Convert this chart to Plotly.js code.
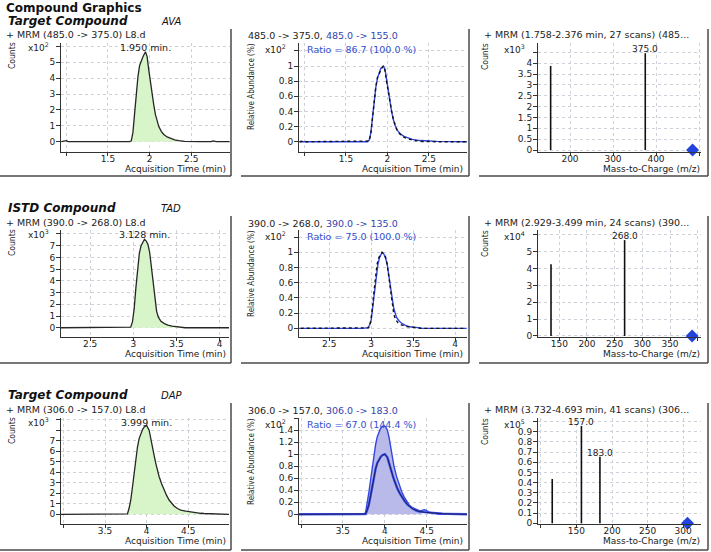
<!DOCTYPE html>
<html><head><meta charset="utf-8">
<script src="https://cdn.plot.ly/plotly-3.0.1.min.js"></script>
<style>html,body{margin:0;padding:0;background:#fff}#chart{width:711px;height:552px}</style>
</head><body><div id="chart"></div>
<script>
// ================= DATA =================
// Row 1 : AVA (target)  485.0 -> 375.0 / 155.0
const rt1 = [0.94,1.00,1.02,1.10,1.30,1.50,1.70,1.76,1.78,1.80,1.82,1.84,1.86,1.88,1.90,1.92,1.95,1.97,1.99,2.01,2.03,2.05,2.07,2.09,2.11,2.14,2.17,2.21,2.25,2.30,2.35,2.38,2.42,2.60,2.74,2.76,2.80,2.96];
const ab1 = [0,0.06,0,0,0,0,0,0,0.05,0.6,1.8,3.1,4.1,4.8,5.15,5.35,5.66,5.35,4.5,3.7,3.0,2.3,1.7,1.3,0.95,0.65,0.45,0.3,0.2,0.12,0.07,0.04,0.02,0,0,0.05,0,0];
const rt2 = [0.94,1.30,1.60,1.76,1.78,1.80,1.82,1.84,1.86,1.88,1.90,1.92,1.95,1.97,1.99,2.01,2.03,2.05,2.07,2.09,2.12,2.16,2.20,2.25,2.30,2.40,2.60,2.96];
const q2  = [0,0,0,0,0.02,0.12,0.32,0.55,0.72,0.84,0.92,0.97,1.0,0.96,0.82,0.66,0.52,0.40,0.30,0.22,0.15,0.10,0.07,0.05,0.03,0.015,0.005,0];
const mz3 = [155,375], int3 = [3.87,4.46], lbl3 = ['', '375.0'], pre3 = 485;

// Row 2 : TAD (ISTD)  390.0 -> 268.0 / 135.0
const rt4 = [2.16,2.50,2.80,2.95,2.97,2.99,3.01,3.03,3.05,3.07,3.09,3.11,3.13,3.15,3.17,3.19,3.21,3.23,3.25,3.27,3.29,3.32,3.36,3.40,3.45,3.50,3.56,3.60,3.80,4.11];
const ab4 = [0,0,0,0,0.05,0.5,1.6,3.4,5.1,6.35,7.0,7.35,7.55,7.4,7.1,6.4,5.2,3.8,2.4,1.4,0.9,0.55,0.35,0.22,0.14,0.1,0.05,0,0,0];
const rt5 = [2.14,2.50,2.90,2.96,2.98,3.00,3.02,3.04,3.06,3.08,3.10,3.13,3.15,3.17,3.19,3.21,3.23,3.25,3.27,3.30,3.33,3.36,3.41,3.46,3.56,3.60,4.14];
const q5  = [0,0,0,0.01,0.04,0.11,0.28,0.47,0.68,0.84,0.93,1.0,0.98,0.93,0.85,0.72,0.55,0.40,0.26,0.15,0.10,0.07,0.04,0.02,0.01,0,0];
const mz6 = [135,268], int6 = [4.25,5.69], lbl6 = ['', '268.0'], pre6 = 390;

// Row 3 : DAP (target)  306.0 -> 157.0 / 183.0
const rt7 = [2.97,3.30,3.60,3.75,3.77,3.79,3.81,3.83,3.85,3.87,3.89,3.91,3.93,3.95,3.97,4.00,4.03,4.05,4.07,4.09,4.11,4.13,4.15,4.18,4.21,4.24,4.27,4.30,4.33,4.37,4.41,4.47,4.53,4.60,4.65,4.69,4.75,4.85,4.92,4.99];
const ab7 = [0,0,0,0,0.05,0.6,1.4,2.6,3.9,5.2,6.4,7.2,7.7,8.05,8.3,8.45,8.0,7.3,6.4,5.6,4.85,4.2,3.6,2.9,2.3,1.8,1.36,1.05,0.8,0.55,0.4,0.3,0.22,0.14,0.1,0.08,0.06,0.05,0.03,0];
const rt8 = [2.98,3.40,3.70,3.75,3.77,3.79,3.81,3.83,3.85,3.87,3.89,3.91,3.93,3.95,3.97,3.99,4.01,4.03,4.05,4.07,4.09,4.11,4.14,4.17,4.20,4.23,4.26,4.29,4.33,4.37,4.41,4.44,4.47,4.50,4.53,4.58,4.65,4.80,4.98];
const q8  = [0,0,0,0,0.03,0.18,0.37,0.57,0.79,1.01,1.16,1.29,1.37,1.43,1.46,1.47,1.45,1.40,1.28,1.12,0.95,0.79,0.63,0.49,0.38,0.29,0.21,0.155,0.11,0.08,0.06,0.065,0.075,0.06,0.03,0.02,0,0,0];
const mz9 = [116,157,183], int9 = [0.435,0.956,0.654], lbl9 = ['', '157.0', '183.0'], pre9 = 306;

const compTitles = ['Target Compound','ISTD Compound','Target Compound'];
const compNames  = ['AVA','TAD','DAP'];
const mrmHdr = ['+ MRM (485.0 -> 375.0) L8.d','+ MRM (390.0 -> 268.0) L8.d','+ MRM (306.0 -> 157.0) L8.d'];
const quantHdr = ['485.0 -> 375.0, ','390.0 -> 268.0, ','306.0 -> 157.0, '];
const qualHdr  = ['485.0 -> 155.0','390.0 -> 135.0','306.0 -> 183.0'];
const ratioTxt = ['Ratio = 86.7 (100.0 %)','Ratio = 75.0 (100.0 %)','Ratio = 67.0 (144.4 %)'];
const specHdr  = ['+ MRM (1.758-2.376 min, 27 scans) (485...','+ MRM (2.929-3.499 min, 24 scans) (390...','+ MRM (3.732-4.693 min, 41 scans) (306...'];
const rtLabel  = ['1.950 min.','3.128 min.','3.999 min.'];
const rtApex   = [1.950, 3.128, 3.999];
const integ    = [[1.77,2.38],[2.96,3.57],[3.76,4.69]];
const qualFill = [3.76,4.46];
const chromExp = ['2','3','3'];
const specExp  = ['3','4','5'];

// ================= LAYOUT HELPERS =================
const W=711, H=552;
const PX = p => p/W, PY = p => 1 - p/H;
const ax = n => n===1 ? '' : String(n);

const GRID = '#cdd1da', LINE = '#333';
function mkAxes(n, l, r, t, b, xr, yr, xt, xtt, yt, ytt){
  const common = {showline:true, linecolor:LINE, linewidth:1, ticks:'outside', ticklen:4, tickcolor:LINE,
    showgrid:true, gridcolor:GRID, griddash:'dot', gridwidth:1, zeroline:false, fixedrange:true,
    tickfont:{size:9, color:'#222'}};
  layout['xaxis'+ax(n)] = Object.assign({}, common, {domain:[PX(l),PX(r)], range:xr, anchor:'y'+ax(n), tickmode:'array', tickvals:xt, ticktext:xtt, ticklen:3, ticklabelstandoff:-5});
  layout['yaxis'+ax(n)] = Object.assign({}, common, {domain:[PY(b),PY(t)], range:yr, anchor:'x'+ax(n), tickmode:'array', tickvals:yt, ticktext:ytt, ticklabelstandoff:-1});
}
const layout = {width:W, height:H, margin:{l:0,r:0,t:0,b:0}, showlegend:false,
  paper_bgcolor:'#fff', plot_bgcolor:'#fff',
  font:{family:'DejaVu Sans, Verdana, sans-serif', size:9, color:'#222'},
  annotations:[], shapes:[]};

const rows = [
  {t:43,  b:152},
  {t:230, b:337},
  {t:418, b:524}
];
const OFF = [0,187,374];

// axes
mkAxes(1, 61,230, 43,152, [0.936,2.965], [-0.65,6.21], [1,1.5,2,2.5], ['','1.5','2','2.5'], [0,1,2,3,4,5,6], ['0','1','2','3','4','5','']);
mkAxes(2, 299,467, 43,152, [0.933,2.96], [-0.136,1.304], [1,1.5,2,2.5], ['','1.5','2','2.5'], [0,0.2,0.4,0.6,0.8,1,1.2], ['0','0.2','0.4','0.6','0.8','1','']);
mkAxes(3, 538,701, 43,152, [125.6,504.6], [-0.09,4.93], [200,300,400,500], ['200','300','400',''], [0,0.5,1,1.5,2,2.5,3,3.5,4,4.5], ['0','0.5','1','1.5','2','2.5','3','3.5','4','']);
mkAxes(4, 61,229, 230,337, [2.163,4.108], [-0.79,8.34], [2.5,3,3.5,4], ['2.5','3','3.5','4'], [0,1,2,3,4,5,6,7,8], ['0','1','2','3','4','5','6','7','']);
mkAxes(5, 299,467, 230,337, [2.139,4.143], [-0.114,1.293], [2.5,3,3.5,4], ['2.5','3','3.5','4'], [0,0.2,0.4,0.6,0.8,1,1.2], ['0','0.2','0.4','0.6','0.8','1','']);
mkAxes(6, 538,701, 230,337, [111.5,406], [-0.06,6.29], [150,200,250,300,350,400], ['150','200','250','300','350',''], [0,1,2,3,4,5,6], ['0','1','2','3','4','5','']);
mkAxes(7, 61,229, 418,524, [2.971,4.99], [-0.92,9.16], [3,3.5,4,4.5], ['','3.5','4','4.5'], [0,1,2,3,4,5,6,7,8,9], ['0','1','2','3','4','5','6','7','','']);
mkAxes(8, 299,467, 418,524, [2.976,4.98], [-0.161,1.60], [3,3.5,4,4.5], ['','3.5','4','4.5'], [0,0.2,0.4,0.6,0.8,1,1.2,1.4,1.6], ['0','0.2','0.4','0.6','0.8','1','1.2','1.4','']);
mkAxes(9, 538,701, 418,524, [96,325], [-0.007,1.034], [100,150,200,250,300], ['','150','200','250','300'], [0,0.1,0.2,0.3,0.4,0.5,0.6,0.7,0.8,0.9,1.0], ['0','0.1','0.2','0.3','0.4','0.5','0.6','0.7','0.8','0.9','']);

// ================= TRACES =================
const traces = [];
function on(n){ return {xaxis:'x'+ax(n), yaxis:'y'+ax(n), hoverinfo:'skip', type:'scatter'}; }
function subset(rt, v, a, b){ const x=[],y=[]; rt.forEach((t,i)=>{ if(t>=a && t<=b){x.push(t); y.push(v[i]);} }); return {x,y}; }
function chrom(n, rt, ab, rng){
  const s = subset(rt, ab, rng[0], rng[1]);
  traces.push(Object.assign(on(n), {x:s.x, y:s.y, mode:'lines', fill:'tozeroy', fillcolor:'#d7f5c8', line:{width:0, color:'rgba(0,0,0,0)'}}));
  traces.push(Object.assign(on(n), {x:rt, y:ab, mode:'lines', line:{color:'#262626', width:1.3}}));
}
function ratio(n, rtq, q, rtQ, Q, fillRng){
  const mx = Math.max(...Q);
  const norm = Q.map(v => v/mx);
  if (fillRng){
    const s = subset(rtq, q, fillRng[0], fillRng[1]);
    traces.push(Object.assign(on(n), {x:s.x, y:s.y, mode:'lines', fill:'tozeroy', fillcolor:'#babaea', line:{width:0, color:'rgba(0,0,0,0)'}}));
    traces.push(Object.assign(on(n), {x:rtq, y:q, mode:'lines', line:{color:'#3347e0', width:1.4}}));
    traces.push(Object.assign(on(n), {x:rtQ, y:norm, mode:'lines', line:{color:'#3f55e8', width:2.4}}));
    traces.push(Object.assign(on(n), {x:rtQ, y:norm, mode:'lines', line:{color:'#1a1a66', width:1.0}}));
  } else {
    traces.push(Object.assign(on(n), {x:rtq, y:q, mode:'lines', line:{color:'#2f45e0', width:1.4}}));
    traces.push(Object.assign(on(n), {x:rtQ, y:norm, mode:'lines', line:{color:'#111', width:1.4, dash:'dot'}}));
  }
}
function spec(n, mz, h, lbl, pre){
  const x=[], y=[];
  mz.forEach((m,i)=>{ x.push(m,m,null); y.push(0,h[i],null); });
  traces.push(Object.assign(on(n), {x, y, mode:'lines', line:{color:'#111', width:1.6}}));
  traces.push(Object.assign(on(n), {x:[pre], y:[0], mode:'markers', cliponaxis:false, marker:{symbol:'diamond', size:10, color:'#2244dd'}}));
  mz.forEach((m,i)=>{ if(lbl[i]) layout.annotations.push({xref:'x'+ax(n), yref:'y'+ax(n), x:m, y:h[i], text:lbl[i], showarrow:false, xanchor:'center', yanchor:'bottom', yshift:-3, font:{size:9, color:'#222'}}); });
}

chrom(1, rt1, ab1, integ[0]);
ratio(2, rt2, q2, rt1, ab1, null);
spec(3, mz3, int3, lbl3, pre3);
chrom(4, rt4, ab4, integ[1]);
ratio(5, rt5, q5, rt4, ab4, null);
spec(6, mz6, int6, lbl6, pre6);
chrom(7, rt7, ab7, integ[2]);
ratio(8, rt8, q8, rt7, ab7, qualFill);
spec(9, mz9, int9, lbl9, pre9);

// ================= TEXT =================
function txt(s, x, y, o){ layout.annotations.push(Object.assign({xref:'paper', yref:'paper', x:PX(x), y:PY(y), text:s, showarrow:false, xanchor:'left', yanchor:'middle', font:{size:9, color:'#222'}}, o||{})); }
txt('<b>Compound Graphics</b>', 4, 8, {font:{size:12, color:'#111'}});
const narrow = 'Liberation Sans Narrow, DejaVu Sans Condensed, Liberation Sans, sans-serif';
for (let r=0; r<3; r++){
  const o = OFF[r], t = rows[r].t, b = rows[r].b;
  txt('<b><i>'+compTitles[r]+'</i></b>', 6, 21+o, {font:{size:12, color:'#111'}});
  txt('<i>'+compNames[r]+'</i>', 159, 21+o, {font:{size:10, color:'#111'}});
  txt(mrmHdr[r], 4, 35+o, {font:{size:9.5, color:'#222'}});
  txt(quantHdr[r]+'<span style="color:#3344b0">'+qualHdr[r]+'</span>', 246, 36+o, {font:{size:9.5, color:'#222'}});
  txt(ratioTxt[r], 305, t+6, {font:{size:9.5, color:'#3050d0'}});
  txt(specHdr[r], 482, 35+o, {font:{size:9.5, color:'#222'}});
  // y titles
  txt('Counts', 12, t+12, {xanchor:'center', textangle:-90, font:{family:narrow, size:8.5, color:'#222'}});
  txt('Relative Abundance (%)', 251, t+44, {xanchor:'center', textangle:-90, font:{family:narrow, size:8, color:'#222'}});
  txt('Counts', 485, t+14, {xanchor:'center', textangle:-90, font:{family:narrow, size:8.5, color:'#222'}});
  // multipliers
  txt('x10<sup>'+chromExp[r]+'</sup>', 51, t+4, {xanchor:'right'});
  txt('x10<sup>2</sup>', 288, t+6, {xanchor:'right'});
  txt('x10<sup>'+specExp[r]+'</sup>', 527, t+6, {xanchor:'right'});
  // x titles
  txt('Acquisition Time (min)', 228, b+17, {xanchor:'right'});
  txt('Acquisition Time (min)', 465, b+17, {xanchor:'right'});
  txt('Mass-to-Charge (m/z)', 702, b+17, {xanchor:'right'});
  // RT label
  layout.annotations.push({xref:'x'+ax(3*r+1), yref:'paper', x:rtApex[r], y:PY(t+4), text:rtLabel[r], showarrow:false, xanchor:'center', yanchor:'middle', font:{size:9.5, color:'#222'}});
  // frames
  const fr = [[0,231],[241,469],[479,708]];
  fr.forEach(f=>{
    layout.shapes.push({type:'line', xref:'paper', yref:'paper', x0:PX(f[0]), x1:PX(f[1]), y0:PY(176+o), y1:PY(176+o), line:{color:'#4a4a4a', width:1.5}});
    layout.shapes.push({type:'line', xref:'paper', yref:'paper', x0:PX(f[1]), x1:PX(f[1]), y0:PY(29+o), y1:PY(176+o), line:{color:'#4a4a4a', width:1.5}});
  });
}

Plotly.newPlot('chart', traces, layout, {staticPlot:true, displayModeBar:false});
</script>
</body></html>
